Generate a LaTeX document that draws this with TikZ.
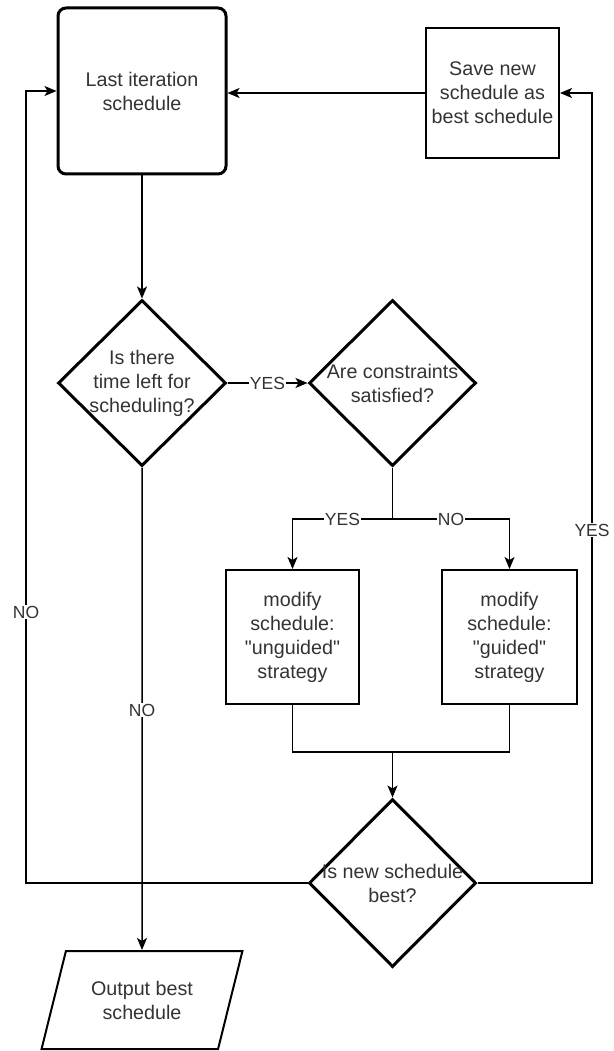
\documentclass[tikz,border=0pt]{standalone}
\usepackage{fontspec}
\setmainfont{Liberation Sans}
% same face without the TeX quote mapping, for straight double quotes
\newfontfamily\plainquote{Liberation Sans}
\newcommand{\sq}{{\plainquote"}}
\usetikzlibrary{shapes.geometric,arrows.meta}

\begin{document}
\begin{tikzpicture}[x=1pt,y=-1pt,
  every node/.style={font=\fontsize{19.7}{24}\selectfont, text=black!80, align=center},
  startbox/.style={draw=black, line width=3pt, rounded corners=8pt, inner sep=0pt},
  procbox/.style={draw=black, line width=2pt, inner sep=0pt},
  decision/.style={draw=black, line width=3pt, diamond, inner sep=0pt},
  iobox/.style={draw=black, line width=2pt, trapezium, trapezium left angle=67,
    trapezium right angle=113, trapezium stretches=true, inner sep=0pt},
  conn/.style={draw=black, line width=1.5pt},
  tip/.style={-{Stealth[length=12pt,width=10pt,inset=3pt]}},
  lab/.style={fill=white, inner sep=1pt, font=\fontsize{17.5}{20}\selectfont}
]
\useasboundingbox (0,0) rectangle (613,1051);

% boxes
\node[startbox, minimum width=168pt, minimum height=166pt] (last) at (142,91)
  {Last iteration\\schedule};
\node[procbox, minimum width=133pt, minimum height=130pt] (save) at (492.5,93)
  {Save new\\schedule as\\best schedule};
\node[decision, minimum width=168pt, minimum height=166pt,
  label={center:{Is there\\time left for\\scheduling?}}] (d1) at (142,383) {};
\node[decision, minimum width=167pt, minimum height=166pt,
  label={center:{Are constraints\\satisfied?}}] (d2) at (392.5,383) {};
\node[procbox, minimum width=133pt, minimum height=134pt] (ung) at (292.5,637)
  {modify\\schedule:\\\sq unguided\sq\\strategy};
\node[procbox, minimum width=135pt, minimum height=134pt] (gui) at (509.5,637)
  {modify\\schedule:\\\sq guided\sq\\strategy};
\node[decision, minimum width=167pt, minimum height=168pt,
  label={center:{Is new schedule\\best?}}] (d3) at (392.5,883) {};
\node[iobox, minimum width=201pt, minimum height=98pt] (out) at (142,1000)
  {Output best\\schedule};

% helper points on the connector routes
\coordinate (split) at (392.5,519);
\coordinate (merge) at (392.5,752);
\coordinate (leftrail) at (26,612);
\coordinate (rightrail) at (592,530);

% connectors
\draw[conn,tip] (save.west) -- (save.west -| last.east);
\draw[conn,tip] (last.south) -- (d1.north);
\draw[conn,tip] (d1.east) -- node[lab]{YES} (d2.west);
\draw[conn] (d2.south) -- (split);
\draw[conn,tip] (split) -| node[lab,pos=0.25]{YES} (ung.north);
\draw[conn,tip] (split) -| node[lab,pos=0.25]{NO} (gui.north);
\draw[conn] (ung.south) |- (merge) -| (gui.south);
\draw[conn,tip] (merge) -- (d3.north);
\draw[conn,tip] (d3.west) -| (leftrail) node[lab]{NO} |- (last.west);
\draw[conn,tip] (d3.east) -| (rightrail) node[lab]{YES} |- (save.east);
\draw[conn,tip] (d1.south) -- node[lab,pos=0.503]{NO} (out.north);
\end{tikzpicture}
\end{document}
